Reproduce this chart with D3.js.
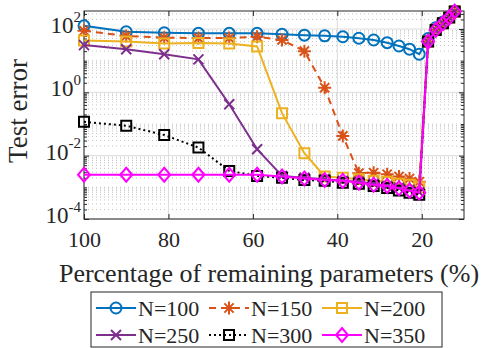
<!DOCTYPE html>
<html>
<head>
<meta charset="utf-8">
<script src="https://cdn.jsdelivr.net/npm/d3@7"></script>
<style>
body{margin:0;background:#fff}
svg text{font-family:"Liberation Serif","Times New Roman","DejaVu Serif",serif !important}
</style>
</head>
<body>
<div id="viz"></div>
<script>
// percentage of remaining parameters at each pruning step
const pct = [100, 90, 81, 72.9, 65.6, 59, 53.1, 47.8, 43, 38.7, 34.9, 31.4, 28.2, 25.4, 22.9, 20.6, 18.5, 16.7, 15, 13.5, 12.2];

// test error per network size
const errN100 = [126, 82, 76, 73, 73, 73, 68, 64, 61, 57, 51, 45, 37, 29, 23, 16, 50, 110, 165, 240, 360];
const errN150 = [88, 60, 53, 52, 52, 57, 45, 20, 1.4, 0.042, 0.0028, 0.0029, 0.0026, 0.0022, 0.0019, 0.0015, 40, 95, 152, 228, 355];
const errN200 = [43, 40, 35, 36, 35, 28, 0.22, 0.012, 0.0022, 0.002, 0.0018, 0.0016, 0.0015, 0.0013, 0.0012, 0.001, 40, 94, 151, 229, 355];
const errN250 = [31, 23, 16, 11, 0.42, 0.016, 0.0023, 0.002, 0.0018, 0.0016, 0.0015, 0.0013, 0.0011, 0.00097, 0.00082, 0.0007, 40, 93, 151, 229, 355];
const errN300 = [0.117, 0.088, 0.045, 0.018, 0.0033, 0.0023, 0.002, 0.0017, 0.0016, 0.0014, 0.0013, 0.0011, 0.00095, 0.0008, 0.00068, 0.00058, 40, 93, 151, 229, 355];
const errN350 = [0.0025, 0.0025, 0.0025, 0.0025, 0.0025, 0.0025, 0.0022, 0.0019, 0.0017, 0.0016, 0.0014, 0.0012, 0.0011, 0.00093, 0.00078, 0.00068, 40, 93, 151, 229, 355];

const seriesNames = ["N=100", "N=150", "N=200", "N=250", "N=300", "N=350"];
const xTicks = [100, 80, 60, 40, 20];
const yTickExp = [-4, -2, 0, 2];

const allErr = [errN100, errN150, errN200, errN250, errN300, errN350];
const styles = [
  {color: "#0072BD", dash: null, marker: "circle"},
  {color: "#D95319", dash: "7,5", marker: "star"},
  {color: "#EDB120", dash: null, marker: "square"},
  {color: "#7E2F8E", dash: null, marker: "x"},
  {color: "#000000", dash: "2,3", marker: "square"},
  {color: "#FF00FF", dash: null, marker: "diamond"}
];

const W = 489, H = 348;
const plot = {left: 84, right: 464, top: 11, bottom: 219};
const axisColor = "#262626";
const font = "Liberation Serif";

const svg = d3.select("#viz").append("svg")
  .attr("width", W).attr("height", H)
  .attr("font-family", font);

const x = d3.scaleLinear().domain([100, 10]).range([plot.left, plot.right]);
const y = d3.scaleLog().domain([1e-4, 370]).range([plot.bottom, plot.top]);

// minor grid (dotted) on log axis
const minorVals = [];
for (let k = -4; k <= 2; k++) {
  for (let m = 1; m <= 9; m++) {
    const v = m * Math.pow(10, k);
    if (v > 370) continue;
    if (m === 1 && yTickExp.includes(k)) continue;
    minorVals.push(v);
  }
}
svg.append("g").selectAll("line").data(minorVals).join("line")
  .attr("x1", plot.left).attr("x2", plot.right)
  .attr("y1", d => y(d)).attr("y2", d => y(d))
  .attr("stroke", "#c4c4c4").attr("stroke-width", 1)
  .attr("stroke-dasharray", "1,3");

// major grid
svg.append("g").selectAll("line").data(xTicks).join("line")
  .attr("x1", d => x(d)).attr("x2", d => x(d))
  .attr("y1", plot.top).attr("y2", plot.bottom)
  .attr("stroke", "#dcdcdc").attr("stroke-width", 1);
svg.append("g").selectAll("line").data(yTickExp).join("line")
  .attr("x1", plot.left).attr("x2", plot.right)
  .attr("y1", d => y(Math.pow(10, d))).attr("y2", d => y(Math.pow(10, d)))
  .attr("stroke", "#dcdcdc").attr("stroke-width", 1);

// axes (ticks inward, box on)
const xAxisB = svg.append("g").attr("transform", `translate(0,${plot.bottom})`)
  .call(d3.axisBottom(x).tickValues(xTicks).tickSize(-5).tickPadding(12).tickSizeOuter(0));
const xAxisT = svg.append("g").attr("transform", `translate(0,${plot.top})`)
  .call(d3.axisTop(x).tickValues(xTicks).tickSize(-5).tickFormat("").tickSizeOuter(0));
const yAxisL = svg.append("g").attr("transform", `translate(${plot.left},0)`)
  .call(d3.axisLeft(y).tickValues(yTickExp.map(e => Math.pow(10, e))).tickSize(-5).tickPadding(6).tickFormat("").tickSizeOuter(0));
const yAxisR = svg.append("g").attr("transform", `translate(${plot.right},0)`)
  .call(d3.axisRight(y).tickValues(yTickExp.map(e => Math.pow(10, e))).tickSize(-5).tickFormat("").tickSizeOuter(0));
const yMinL = svg.append("g").attr("transform", `translate(${plot.left},0)`)
  .call(d3.axisLeft(y).tickValues(minorVals).tickSize(-3).tickFormat("").tickSizeOuter(0));
const yMinR = svg.append("g").attr("transform", `translate(${plot.right},0)`)
  .call(d3.axisRight(y).tickValues(minorVals).tickSize(-3).tickFormat("").tickSizeOuter(0));

[xAxisB, xAxisT, yAxisL, yAxisR, yMinL, yMinR].forEach(g => {
  g.attr("font-family", font);
  g.selectAll("path.domain").remove();
  g.selectAll(".tick line").attr("stroke", axisColor);
});
xAxisB.selectAll(".tick text")
  .attr("fill", axisColor).attr("font-size", 22);

// y tick labels 10^k
yAxisL.selectAll(".tick text").each(function(d) {
  const t = d3.select(this)
    .attr("fill", axisColor)
    .attr("x", -3).attr("dy", "0.35em").text(null);
  t.append("tspan").attr("font-size", 23).text("10");
  t.append("tspan").attr("font-size", 15).attr("dy", "-0.75em").text(Math.round(Math.log10(d)));
});

// box
svg.append("rect")
  .attr("x", plot.left).attr("y", plot.top)
  .attr("width", plot.right - plot.left).attr("height", plot.bottom - plot.top)
  .attr("fill", "none").attr("stroke", axisColor).attr("stroke-width", 1);

// marker shapes
function markerPath(type) {
  switch (type) {
    case "circle": return "M-5.5,0a5.5,5.5 0 1,0 11,0a5.5,5.5 0 1,0 -11,0Z";
    case "square": return "M-5,-5H5V5H-5Z";
    case "diamond": return "M0,-7L6,0L0,7L-6,0Z";
    case "x": return "M-5,-5L5,5M-5,5L5,-5";
    case "star": return "M-6.5,0H6.5M0,-6.5V6.5M-4.6,-4.6L4.6,4.6M-4.6,4.6L4.6,-4.6";
  }
}

const line = d3.line().x(d => x(d[0])).y(d => y(d[1]));

allErr.forEach((vals, i) => {
  const st = styles[i];
  const pts = pct.map((p, j) => [p, vals[j]]);
  const g = svg.append("g");
  g.append("path").datum(pts)
    .attr("d", line)
    .attr("fill", "none").attr("stroke", st.color).attr("stroke-width", 2)
    .attr("stroke-dasharray", st.dash);
  g.selectAll("path.mk").data(pts).join("path")
    .attr("class", "mk")
    .attr("transform", d => `translate(${x(d[0])},${y(d[1])})`)
    .attr("d", markerPath(st.marker))
    .attr("fill", "none").attr("stroke", st.color).attr("stroke-width", 2);
});

// axis labels
svg.append("text")
  .attr("x", 269).attr("y", 282)
  .attr("text-anchor", "middle")
  .attr("fill", axisColor)
  .attr("font-size", 26)
  .text("Percentage of remaining parameters (%)");

svg.append("text")
  .attr("transform", "translate(27,111) rotate(-90)")
  .attr("text-anchor", "middle")
  .attr("fill", axisColor)
  .attr("font-size", 27)
  .text("Test error");

// legend
const legend = svg.append("g");
legend.append("rect")
  .attr("x", 91).attr("y", 292).attr("width", 351).attr("height", 55)
  .attr("fill", "#fff").attr("stroke", axisColor).attr("stroke-width", 1);
const colX = [96, 209, 322];
const rowY = [308, 335];
seriesNames.forEach((name, i) => {
  const st = styles[i];
  const lx = colX[i % 3], ly = rowY[Math.floor(i / 3)];
  const g = legend.append("g");
  g.append("line")
    .attr("x1", lx).attr("x2", lx + 40).attr("y1", ly).attr("y2", ly)
    .attr("stroke", st.color).attr("stroke-width", 2)
    .attr("stroke-dasharray", st.dash);
  g.append("path")
    .attr("transform", `translate(${lx + 20},${ly})`)
    .attr("d", markerPath(st.marker))
    .attr("fill", "none").attr("stroke", st.color).attr("stroke-width", 2);
  g.append("text")
    .attr("x", lx + 42).attr("y", ly + 8)
    .attr("fill", axisColor)
    .attr("font-size", 22)
    .text(name);
});
</script>
</body>
</html>
